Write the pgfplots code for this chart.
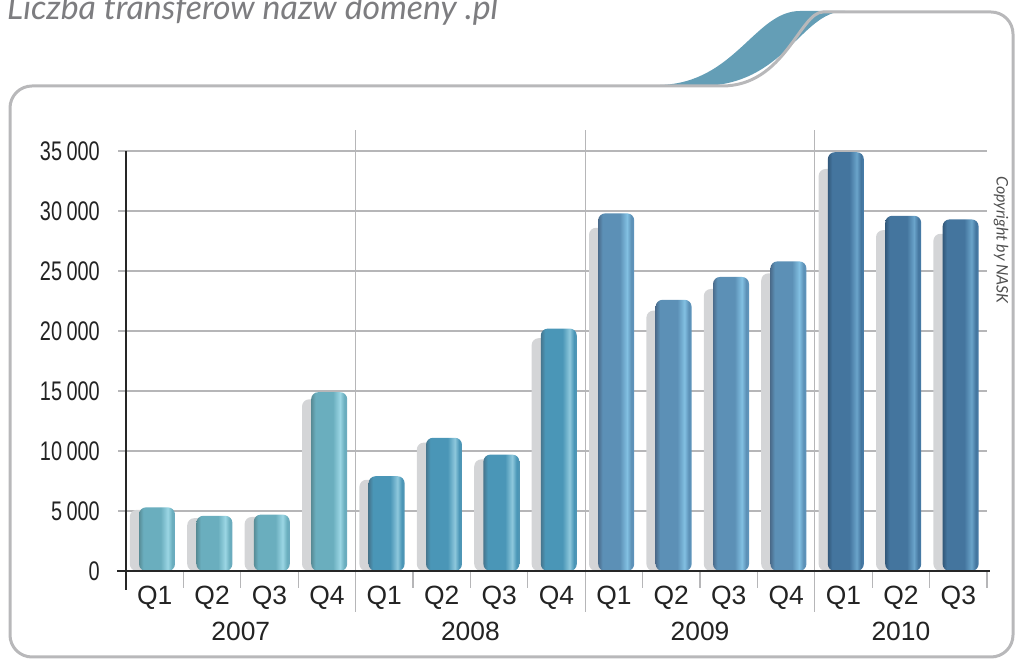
\documentclass[border=0pt]{standalone}
\usepackage{fontspec}
\usepackage{pgfplots}
\pgfplotsset{compat=1.18}
\setmainfont{Liberation Sans}
\newfontfamily\condfont[FakeStretch=0.74]{Liberation Sans}
\newfontfamily\titlefont{Lato}

\definecolor{framegray}{RGB}{184,184,186}
\definecolor{gridgray}{RGB}{182,182,184}
\definecolor{shadowgray}{RGB}{212,213,215}
\definecolor{swoosh}{RGB}{100,158,182}
\definecolor{textdark}{RGB}{35,35,35}
\definecolor{titlegray}{RGB}{125,125,128}

% bar colours, one set per year: edge, base, highlight, right
\definecolor{a07}{RGB}{88,140,150}\definecolor{b07}{RGB}{106,174,190}
\definecolor{h07}{RGB}{155,214,228}\definecolor{r07}{RGB}{108,170,190}
\definecolor{a08}{RGB}{70,118,142}\definecolor{b08}{RGB}{74,150,183}
\definecolor{h08}{RGB}{142,200,220}\definecolor{r08}{RGB}{82,150,180}
\definecolor{a09}{RGB}{75,108,140}\definecolor{b09}{RGB}{92,144,182}
\definecolor{h09}{RGB}{130,192,226}\definecolor{r09}{RGB}{95,150,190}
\definecolor{a10}{RGB}{50,88,122}\definecolor{b10}{RGB}{68,117,158}
\definecolor{h10}{RGB}{106,164,202}\definecolor{r10}{RGB}{72,125,170}

\pgfdeclarehorizontalshading{bar07}{100bp}{color(0bp)=(a07); color(25bp)=(a07); color(31bp)=(b07); color(55bp)=(b07); color(65bp)=(h07); color(71bp)=(b07); color(75bp)=(r07); color(100bp)=(r07)}
\pgfdeclarehorizontalshading{bar08}{100bp}{color(0bp)=(a08); color(25bp)=(a08); color(31bp)=(b08); color(55bp)=(b08); color(65bp)=(h08); color(71bp)=(b08); color(75bp)=(r08); color(100bp)=(r08)}
\pgfdeclarehorizontalshading{bar09}{100bp}{color(0bp)=(a09); color(25bp)=(a09); color(31bp)=(b09); color(55bp)=(b09); color(65bp)=(h09); color(71bp)=(b09); color(75bp)=(r09); color(100bp)=(r09)}
\pgfdeclarehorizontalshading{bar10}{100bp}{color(0bp)=(a10); color(25bp)=(a10); color(31bp)=(b10); color(55bp)=(b10); color(65bp)=(h10); color(71bp)=(b10); color(75bp)=(r10); color(100bp)=(r10)}

\pgfplotsset{
  barstyle/.style={ybar, bar width=0.627, bar shift=0.04, draw=none, rounded corners=7bp, shade, shading=#1},
}

\begin{document}
\begin{tikzpicture}[x=1bp,y=1bp]
\useasboundingbox (0,0) rectangle (1016,659);
\clip (0,0) rectangle (1016,659);

% title, cut at the top edge
\node[anchor=base west, inner sep=0pt, text=titlegray,
  font=\titlefont\itshape\fontsize{34}{40}\selectfont] at (7,639) {Liczba transferów nazw domeny .pl};

% swoosh and frame
\fill[swoosh] (660,574) .. controls (735,576) and (755,648) .. (800,648) -- (845,648)
  .. controls (800,647) and (785,573) .. (700,573) -- cycle;
\draw[framegray, line width=3bp, rounded corners=22bp]
  (700,573) .. controls (785,573) and (800,647) .. (845,647) -- (1013,647) -- (1013,2) -- (10,2) -- (10,573) -- cycle;

\node[rotate=-90, text=textdark!80, font=\titlefont\itshape\fontsize{16}{19}\selectfont] at (1001,419) {Copyright by NASK};

\begin{axis}[
  at={(126bp,88bp)}, anchor=south west,
  scale only axis, width=861bp, height=420bp,
  xmin=-0.5, xmax=14.5, ymin=0, ymax=35000,
  clip=false,
  axis line style={draw=none},
  ytick={0,5000,10000,15000,20000,25000,30000,35000},
  yticklabels={0,5\,000,10\,000,15\,000,20\,000,25\,000,30\,000,35\,000},
  ytick pos=left,
  ymajorgrids, grid style={gridgray, line width=1.3bp},
  ytick style={draw=none},
  yticklabel style={font=\condfont\fontsize{27}{32}\selectfont, text=textdark, anchor=east, inner sep=0pt, xshift=-26bp},
  xtick={0,...,14},
  xticklabels={Q1,Q2,Q3,Q4,Q1,Q2,Q3,Q4,Q1,Q2,Q3,Q4,Q1,Q2,Q3},
  xtick pos=bottom,
  xtick style={draw=none},
  xticklabel style={font=\fontsize{26.5}{31}\selectfont, text=textdark, anchor=base, inner sep=0pt, yshift=-34bp},
  scaled y ticks=false,
]
% shadows
\addplot[ybar, bar width=0.627, bar shift=-0.12, fill=shadowgray, draw=none, rounded corners=7bp] coordinates {
  (0,5100) (1,4400) (2,4500) (3,14300)
  (4,7600) (5,10700) (6,9300) (7,19400)
  (8,28600) (9,21700) (10,23500) (11,24800)
  (12,33500) (13,28400) (14,28100)};
% bars, one plot per bar so that each gets its own shading
\addplot[barstyle=bar07] coordinates {(0,5300)};
\addplot[barstyle=bar07] coordinates {(1,4600)};
\addplot[barstyle=bar07] coordinates {(2,4700)};
\addplot[barstyle=bar07] coordinates {(3,14900)};
\addplot[barstyle=bar08] coordinates {(4,7900)};
\addplot[barstyle=bar08] coordinates {(5,11100)};
\addplot[barstyle=bar08] coordinates {(6,9700)};
\addplot[barstyle=bar08] coordinates {(7,20200)};
\addplot[barstyle=bar09] coordinates {(8,29800)};
\addplot[barstyle=bar09] coordinates {(9,22600)};
\addplot[barstyle=bar09] coordinates {(10,24500)};
\addplot[barstyle=bar09] coordinates {(11,25800)};
\addplot[barstyle=bar10] coordinates {(12,34900)};
\addplot[barstyle=bar10] coordinates {(13,29600)};
\addplot[barstyle=bar10] coordinates {(14,29300)};

% extend grid to the left
\pgfplotsinvokeforeach{0,5000,10000,15000,20000,25000,30000,35000}{
  \draw[gridgray, line width=1.3bp] ([xshift=-8bp]axis cs:-0.5,#1) -- (axis cs:-0.5,#1);
}
% year separators and quarter ticks
\pgfplotsinvokeforeach{3.5,7.5,11.5}{
  \draw[gridgray, line width=1.3bp] ([yshift=-41bp]axis cs:#1,0) -- ([yshift=21bp]axis cs:#1,35000);
}
\pgfplotsinvokeforeach{0.5,1.5,2.5,4.5,5.5,6.5,8.5,9.5,10.5,12.5,13.5,14.5}{
  \draw[gridgray, line width=1.3bp] ([yshift=-17bp]axis cs:#1,0) -- (axis cs:#1,0);
}
% axis lines
\draw[black!85, line width=2.4bp] ([yshift=-19bp]axis cs:-0.5,0) -- (axis cs:-0.5,35000);
\draw[black!85, line width=2.4bp] ([xshift=-9bp]axis cs:-0.5,0) -- ([xshift=3bp]axis cs:14.5,0);
% years
\node[font=\fontsize{26.5}{31}\selectfont, text=textdark] at ([yshift=-60bp]axis cs:1.5,0) {2007};
\node[font=\fontsize{26.5}{31}\selectfont, text=textdark] at ([yshift=-60bp]axis cs:5.5,0) {2008};
\node[font=\fontsize{26.5}{31}\selectfont, text=textdark] at ([yshift=-60bp]axis cs:9.5,0) {2009};
\node[font=\fontsize{26.5}{31}\selectfont, text=textdark] at ([yshift=-60bp]axis cs:13,0) {2010};
\end{axis}
\end{tikzpicture}
\end{document}
